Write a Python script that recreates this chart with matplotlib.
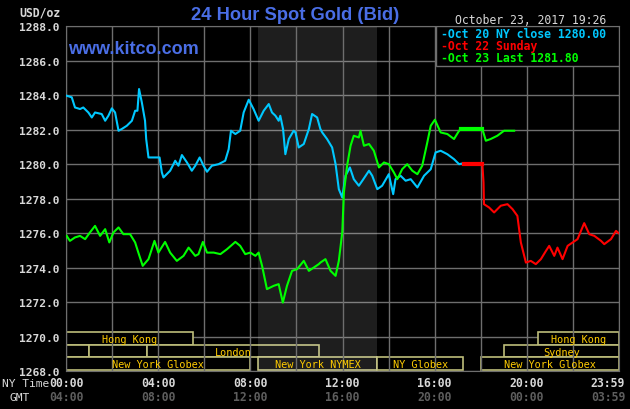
import numpy as np
import matplotlib.pyplot as plt
from matplotlib.patches import Rectangle

# Oct 20 (cyan), hours NY time -> price
cyan_h = [0.03, 0.25, 0.39, 0.61, 0.75, 0.97, 1.12, 1.26, 1.55, 1.70, 1.84, 1.99, 2.13, 2.28,
          2.42, 2.64, 2.86, 3.00, 3.10, 3.17, 3.29, 3.43, 3.48, 3.58, 3.80, 4.06, 4.16, 4.23,
          4.52, 4.74, 4.88, 5.03, 5.25, 5.46, 5.61, 5.80, 5.97, 6.12, 6.33, 6.62, 6.91, 7.06,
          7.16, 7.35, 7.56, 7.71, 7.93, 8.14, 8.36, 8.58, 8.80, 8.94, 9.09, 9.23, 9.30, 9.42,
          9.52, 9.67, 9.88, 9.96, 10.10, 10.32, 10.54, 10.68, 10.90, 11.04, 11.12, 11.33, 11.55,
          11.70, 11.84, 11.99, 12.13, 12.32, 12.49, 12.71, 12.86, 13.15, 13.29, 13.51, 13.72,
          14.01, 14.20, 14.30, 14.52, 14.74, 14.96, 15.25, 15.54, 15.83, 16.04, 16.26, 16.55,
          16.84, 17.06, 17.28]
cyan_p = [1283.97, 1283.88, 1283.29, 1283.20, 1283.29, 1283.00, 1282.71, 1283.00, 1282.91,
          1282.52, 1282.81, 1283.24, 1283.00, 1281.94, 1282.04, 1282.23, 1282.52, 1283.10,
          1283.10, 1284.36, 1283.59, 1282.52, 1281.46, 1280.39, 1280.39, 1280.39, 1279.52,
          1279.23, 1279.62, 1280.20, 1279.91, 1280.53, 1280.10, 1279.62, 1279.91, 1280.39,
          1279.91, 1279.56, 1279.91, 1280.00, 1280.20, 1280.87, 1281.94, 1281.75, 1281.94,
          1283.00, 1283.74, 1283.20, 1282.52, 1283.10, 1283.49, 1283.00, 1282.81, 1282.52,
          1282.81, 1282.04, 1280.58, 1281.46, 1281.94, 1281.84, 1280.97, 1281.17, 1282.04,
          1282.91, 1282.71, 1282.04, 1281.84, 1281.46, 1280.97, 1280.00, 1278.55, 1278.07,
          1279.33, 1279.81, 1279.13, 1278.75, 1279.04, 1279.62, 1279.33, 1278.55, 1278.75,
          1279.42, 1278.26, 1279.13, 1279.33, 1279.04, 1279.13, 1278.65, 1279.33, 1279.71,
          1280.68, 1280.78, 1280.58, 1280.29, 1280.00, 1280.06]

# Oct 22 Sunday (red)
red_h = [17.28, 18.07, 18.12, 18.14, 18.36, 18.58, 18.87, 19.16, 19.38, 19.59, 19.74, 19.96,
         20.17, 20.39, 20.61, 20.83, 20.97, 21.19, 21.33, 21.55, 21.77, 21.99, 22.20, 22.49,
         22.71, 22.93, 23.22, 23.36, 23.65, 23.87, 23.98]
red_p = [1280.00, 1280.00, 1278.94, 1277.68, 1277.49, 1277.20, 1277.59, 1277.68, 1277.39,
         1277.00, 1275.46, 1274.29, 1274.39, 1274.20, 1274.49, 1274.97, 1275.26, 1274.68,
         1275.16, 1274.49, 1275.26, 1275.46, 1275.65, 1276.58, 1275.94, 1275.84, 1275.55,
         1275.36, 1275.65, 1276.13, 1276.00]

# Oct 23 (green)
green_h = [0.03, 0.17, 0.39, 0.61, 0.83, 1.04, 1.26, 1.48, 1.70, 1.88, 2.06, 2.28, 2.49, 2.78,
           3.00, 3.14, 3.33, 3.58, 3.84, 4.01, 4.30, 4.52, 4.81, 5.10, 5.32, 5.61, 5.75, 5.94,
           6.12, 6.41, 6.70, 6.99, 7.35, 7.56, 7.78, 8.00, 8.22, 8.36, 8.51, 8.72, 9.01, 9.23,
           9.41, 9.59, 9.81, 10.03, 10.32, 10.54, 10.75, 10.97, 11.04, 11.26, 11.48, 11.70,
           11.84, 11.99, 12.06, 12.20, 12.35, 12.49, 12.71, 12.78, 12.93, 13.15, 13.36, 13.58,
           13.80, 14.01, 14.23, 14.38, 14.59, 14.81, 15.03, 15.25, 15.46, 15.68, 15.83, 16.01,
           16.26, 16.55, 16.84, 17.06, 17.13, 18.07, 18.22, 18.43, 18.72, 19.01, 19.23, 19.45]
green_p = [1275.84, 1275.55, 1275.75, 1275.84, 1275.65, 1276.04, 1276.42, 1275.84, 1276.23,
           1275.46, 1276.04, 1276.33, 1275.94, 1275.94, 1275.46, 1274.87, 1274.10, 1274.49,
           1275.55, 1274.87, 1275.49, 1274.87, 1274.39, 1274.68, 1275.16, 1274.68, 1274.78,
           1275.49, 1274.87, 1274.87, 1274.78, 1275.07, 1275.49, 1275.26, 1274.78, 1274.87,
           1274.68, 1274.87, 1274.10, 1272.75, 1272.94, 1273.04, 1271.97, 1272.94, 1273.81,
           1273.91, 1274.39, 1273.81, 1274.00, 1274.20, 1274.29, 1274.49, 1273.81, 1273.52,
           1274.39, 1276.04, 1278.36, 1279.91, 1281.07, 1281.65, 1281.55, 1281.94, 1281.07,
           1281.17, 1280.78, 1279.81, 1280.10, 1280.00, 1279.52, 1279.13, 1279.71, 1280.00,
           1279.62, 1279.42, 1279.91, 1281.26, 1282.23, 1282.58, 1281.84, 1281.75, 1281.46,
           1281.94, 1282.04, 1282.04, 1281.36, 1281.46, 1281.65, 1281.94, 1281.94, 1281.94]

legend_lines = ['Oct 20 NY close 1280.00', 'Oct 22 Sunday', 'Oct 23 Last 1281.80']

# trading sessions: label, row, start, end (NY time hours)
sess_label = ['Hong Kong', 'Hong Kong', '', '', 'London', 'Sydney',
              'New York Globex', 'New York NYMEX', 'NY Globex', 'New York Globex']
sess_row = [0, 0, 1, 1, 1, 1, 2, 2, 2, 2]
sess_start = [0, 20.5, 0, 1.0, 3.5, 19.0, 0, 8.33, 13.5, 18.0]
sess_end = [5.5, 24, 1.0, 3.5, 11.0, 24, 8.0, 13.5, 17.25, 24]

tick_h = [0, 4, 8, 12, 16, 20, 23.52]
ny_labels = ['00:00', '04:00', '08:00', '12:00', '16:00', '20:00', '23:59']
gmt_labels = ['04:00', '08:00', '12:00', '16:00', '20:00', '00:00', '03:59']

BG = '#000000'
GRID = '#6e6e6e'
TXT = '#d8d8d8'
MONO = 'DejaVu Sans Mono'

fig = plt.figure(figsize=(6.3, 4.1), dpi=100, facecolor=BG)
ax = fig.add_axes([66 / 630, 38 / 410, 553 / 630, 344.7 / 410], facecolor=BG)
ax.set_xlim(0, 24)
ax.set_ylim(1268, 1288)

# horizontal grid under sessions, vertical over
for v in range(1268, 1289, 2):
    ax.axhline(v, color=GRID, lw=1, zorder=1)

# session boxes
row_top = [0.113, 0.0763, 0.0397]
row_hgt = 0.0367
xt = ax.get_xaxis_transform()
for lab, r, s, e in zip(sess_label, sess_row, sess_start, sess_end):
    ax.add_patch(Rectangle((s, row_top[r] - row_hgt), e - s, row_hgt, transform=xt,
                           facecolor=BG, edgecolor='#bdbd7a', lw=1.2, zorder=2))
    if lab:
        ax.text((s + e) / 2, row_top[r] - row_hgt / 2 - 0.002, lab, transform=xt,
                ha='center', va='center', color='#ffcc00', fontsize=7.4,
                family=MONO, zorder=6)

# NYMEX shaded hours
ax.axvspan(8.33, 13.5, color='white', alpha=0.12, lw=0, zorder=2.5)

for h in range(0, 25, 2):
    ax.axvline(h, color=GRID, lw=1, zorder=3)

ax.plot(cyan_h, cyan_p, color='#00c8ff', lw=1.5, zorder=4)
ax.plot(red_h[:2], red_p[:2], color='#ff0000', lw=3, zorder=4)
ax.plot(red_h[1:], red_p[1:], color='#ff0000', lw=1.5, zorder=4)
ax.plot(green_h, green_p, color='#00ff00', lw=1.5, zorder=5)
ax.plot(green_h[82:84], green_p[82:84], color='#00ff00', lw=3, zorder=5)

for s in ax.spines.values():
    s.set_color(GRID)
ax.set_xticks([])
ax.set_yticks(range(1268, 1289, 2))
ax.set_yticklabels(['%.1f' % v for v in range(1268, 1289, 2)], family=MONO,
                   fontsize=8.1, fontweight='bold', color=TXT)
ax.tick_params(axis='y', length=0, pad=5)

# time labels
for h, a, b in zip(tick_h, ny_labels, gmt_labels):
    ax.text(h, -0.034, a, transform=xt, ha='center', va='center', family=MONO,
            fontsize=8.3, fontweight='bold', color=TXT)
    ax.text(h, -0.074, b, transform=xt, ha='center', va='center', family=MONO,
            fontsize=8.3, fontweight='bold', color='#5e5e5e')
fig.text(2 / 630, 1 - 384 / 410, 'NY Time', ha='left', va='center', family=MONO,
         fontsize=8.1, color=TXT)
fig.text(10 / 630, 1 - 398 / 410, 'GMT', ha='left', va='center', family=MONO,
         fontsize=8.1, color=TXT)

# legend box
ax.add_patch(Rectangle((436 / 630, 1 - 67 / 410), 183 / 630, 40 / 410,
                       transform=fig.transFigure, facecolor=BG, edgecolor=GRID,
                       lw=1, zorder=7))
leg_colors = ['#00c8ff', '#ff0000', '#00ff00']
for i, (t, c) in enumerate(zip(legend_lines, leg_colors)):
    fig.text(441 / 630, 1 - (34 + 12.3 * i) / 410, '-' + t, ha='left', va='center',
             family=MONO, fontsize=8.3, fontweight='bold', color=c, zorder=8)

fig.text(61 / 630, 1 - 13 / 410, 'USD/oz', ha='right', va='center', family=MONO,
         fontsize=8.3, fontweight='bold', color=TXT)
fig.text(295 / 630, 1 - 15 / 410, '24 Hour Spot Gold (Bid)', ha='center', va='center',
         fontsize=13.2, family='Liberation Sans', fontweight='bold', color='#4a6ee6')
fig.text(68 / 630, 1 - 49 / 410, 'www.kitco.com', ha='left', va='center',
         fontsize=13, family='Liberation Sans', fontweight='bold', color='#4a6ee6')
fig.text(455 / 630, 1 - 20 / 410, 'October 23, 2017 19:26', ha='left', va='center',
         family=MONO, fontsize=8.3, color=TXT)

fig.savefig('out.png', dpi=100, facecolor=BG)
